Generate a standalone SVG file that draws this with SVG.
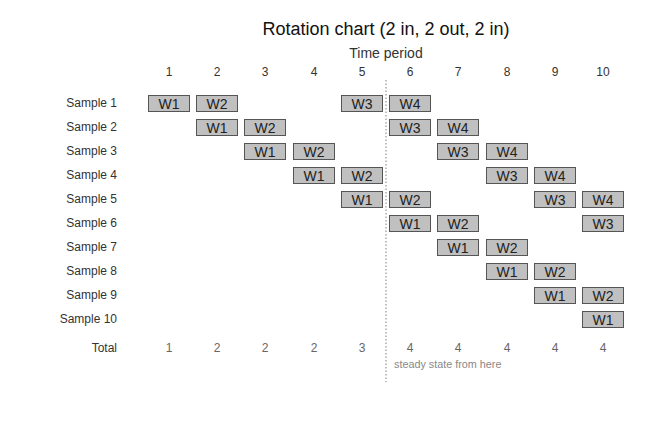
<svg xmlns="http://www.w3.org/2000/svg" width="672" height="432" viewBox="0 0 672 432">
<style>
text{font-family:"Liberation Sans",Arial,sans-serif}
.b rect{fill:#c0c0c0;stroke:#555;stroke-width:1}
.b text{font-size:14px;fill:#222;text-anchor:middle}
.lab{font-size:12px;fill:#333;text-anchor:end}
.col{font-size:12px;fill:#333;text-anchor:middle}
.tot{font-size:12px;fill:#666;text-anchor:middle}
</style>
<rect width="672" height="432" fill="#fff"/>
<text x="386" y="35" font-size="18" text-anchor="middle" fill="#111">Rotation chart (2 in, 2 out, 2 in)</text>
<text x="386" y="58" font-size="14" text-anchor="middle" fill="#333">Time period</text>
<g class="col">
<text x="169" y="76">1</text><text x="217" y="76">2</text><text x="265" y="76">3</text><text x="314" y="76">4</text><text x="362" y="76">5</text><text x="410" y="76">6</text><text x="458" y="76">7</text><text x="507" y="76">8</text><text x="555" y="76">9</text><text x="603" y="76">10</text>
</g>
<g id="connectors"><line x1="386" y1="80" x2="386" y2="382" stroke="#aaa" stroke-width="1.5" stroke-dasharray="1.5,2"/></g>
<g class="lab">
<text x="117" y="107">Sample 1</text><text x="117" y="131">Sample 2</text><text x="117" y="155">Sample 3</text><text x="117" y="179">Sample 4</text><text x="117" y="203">Sample 5</text><text x="117" y="227">Sample 6</text><text x="117" y="251">Sample 7</text><text x="117" y="275">Sample 8</text><text x="117" y="299">Sample 9</text><text x="117" y="323">Sample 10</text>
<text x="117" y="352">Total</text>
</g>
<g class="b">
<g id="s1"><rect x="148.5" y="95.5" width="41" height="16"/><text x="169" y="109">W1</text><rect x="196.5" y="95.5" width="41" height="16"/><text x="217" y="109">W2</text><rect x="341.5" y="95.5" width="41" height="16"/><text x="362" y="109">W3</text><rect x="389.5" y="95.5" width="41" height="16"/><text x="410" y="109">W4</text></g>
<g id="s2"><rect x="196.5" y="119.5" width="41" height="16"/><text x="217" y="133">W1</text><rect x="244.5" y="119.5" width="41" height="16"/><text x="265" y="133">W2</text><rect x="389.5" y="119.5" width="41" height="16"/><text x="410" y="133">W3</text><rect x="437.5" y="119.5" width="41" height="16"/><text x="458" y="133">W4</text></g>
<g id="s3"><rect x="244.5" y="143.5" width="41" height="16"/><text x="265" y="157">W1</text><rect x="293.5" y="143.5" width="41" height="16"/><text x="314" y="157">W2</text><rect x="437.5" y="143.5" width="41" height="16"/><text x="458" y="157">W3</text><rect x="486.5" y="143.5" width="41" height="16"/><text x="507" y="157">W4</text></g>
<g id="s4"><rect x="293.5" y="167.5" width="41" height="16"/><text x="314" y="181">W1</text><rect x="341.5" y="167.5" width="41" height="16"/><text x="362" y="181">W2</text><rect x="486.5" y="167.5" width="41" height="16"/><text x="507" y="181">W3</text><rect x="534.5" y="167.5" width="41" height="16"/><text x="555" y="181">W4</text></g>
<g id="s5"><rect x="341.5" y="191.5" width="41" height="16"/><text x="362" y="205">W1</text><rect x="389.5" y="191.5" width="41" height="16"/><text x="410" y="205">W2</text><rect x="534.5" y="191.5" width="41" height="16"/><text x="555" y="205">W3</text><rect x="582.5" y="191.5" width="41" height="16"/><text x="603" y="205">W4</text></g>
<g id="s6"><rect x="389.5" y="215.5" width="41" height="16"/><text x="410" y="229">W1</text><rect x="437.5" y="215.5" width="41" height="16"/><text x="458" y="229">W2</text><rect x="582.5" y="215.5" width="41" height="16"/><text x="603" y="229">W3</text></g>
<g id="s7"><rect x="437.5" y="239.5" width="41" height="16"/><text x="458" y="253">W1</text><rect x="486.5" y="239.5" width="41" height="16"/><text x="507" y="253">W2</text></g>
<g id="s8"><rect x="486.5" y="263.5" width="41" height="16"/><text x="507" y="277">W1</text><rect x="534.5" y="263.5" width="41" height="16"/><text x="555" y="277">W2</text></g>
<g id="s9"><rect x="534.5" y="287.5" width="41" height="16"/><text x="555" y="301">W1</text><rect x="582.5" y="287.5" width="41" height="16"/><text x="603" y="301">W2</text></g>
<g id="s10"><rect x="582.5" y="311.5" width="41" height="16"/><text x="603" y="325">W1</text></g>
</g>
<g class="tot">
<text x="169" y="352">1</text><text x="217" y="352">2</text><text x="265" y="352">2</text><text x="314" y="352">2</text><text x="362" y="352">3</text><text x="410" y="352">4</text><text x="458" y="352">4</text><text x="507" y="352">4</text><text x="555" y="352">4</text><text x="603" y="352">4</text>
</g>
<text x="394" y="368" font-size="10.8" fill="#888">steady state from here</text>
</svg>
